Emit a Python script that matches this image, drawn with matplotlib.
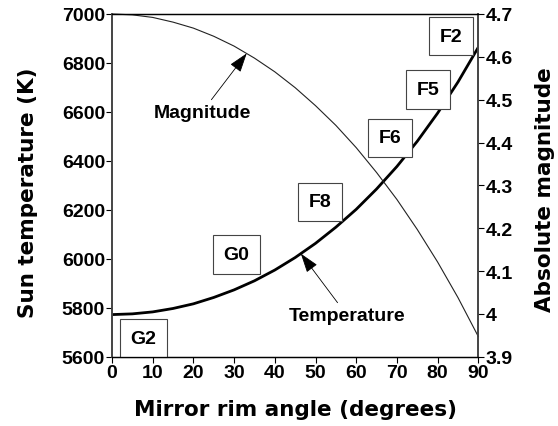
#!/usr/bin/env python3

import matplotlib
matplotlib.use("Agg")
import matplotlib.pyplot as plt

########################################################################################################################

# rim angle of the mirror (degrees)
angle = [0, 5, 10, 15, 20, 25, 30, 35, 40, 45, 50, 55, 60, 65, 70, 75, 80, 85, 90]

# sun temperature (K)
temperature = [5772, 5775, 5783, 5797, 5816, 5842, 5873, 5910, 5954, 6005,
               6063, 6129, 6202, 6285, 6377, 6480, 6595, 6722, 6864]

# absolute magnitude
magnitude = [4.700, 4.698, 4.692, 4.681, 4.667, 4.648, 4.625, 4.597, 4.565, 4.528,
             4.486, 4.440, 4.388, 4.330, 4.267, 4.197, 4.121, 4.038, 3.947]

# spectral type boxes (angle, temperature of box centre)
star_types = ['G2', 'G0', 'F8', 'F6', 'F5', 'F2']
type_angle = [7.7, 30.5, 51.2, 68.4, 77.6, 83.3]
type_temp = [5676, 6018, 6232, 6494, 6691, 6909]

temp_ticks = [5600, 5800, 6000, 6200, 6400, 6600, 6800, 7000]
mag_ticks = [3.9, 4.0, 4.1, 4.2, 4.3, 4.4, 4.5, 4.6, 4.7]
mag_labels = ['3.9', '4', '4.1', '4.2', '4.3', '4.4', '4.5', '4.6', '4.7']
angle_ticks = [0, 10, 20, 30, 40, 50, 60, 70, 80, 90]

########################################################################################################################

tickfont = dict(family='Liberation Sans', weight='bold', size=14)
labelfont = dict(family='DejaVu Sans', weight='bold', size=15.5)
notefont = dict(family='Liberation Sans', weight='bold', size=14)

fig = plt.figure(figsize=(5.58, 4.27), dpi=100)
ax = fig.add_axes([0.2007, 0.1623, 0.8572 - 0.2007, 0.9649 - 0.1623])
ax2 = ax.twinx()

ax.plot(angle, temperature, color='black', lw=2.0, zorder=2)
ax2.plot(angle, magnitude, color='#222222', lw=0.8, clip_on=False)

ax.set_xlim(0, 90)
ax.set_ylim(5600, 7000)
ax2.set_ylim(3.9, 4.7)

ax.set_xticks(angle_ticks)
ax.set_xticklabels([str(a) for a in angle_ticks], fontdict=tickfont)
ax.set_yticks(temp_ticks)
ax.set_yticklabels([str(t) for t in temp_ticks], fontdict=tickfont)
ax2.set_yticks(mag_ticks)
ax2.set_yticklabels(mag_labels, fontdict=tickfont)

ax.tick_params(axis='x', direction='out', length=4, width=0.8, pad=1.5)
ax.tick_params(axis='y', direction='out', length=4, width=0.8, pad=1.0)
ax2.tick_params(axis='y', direction='out', length=4, width=0.8, pad=1.0)

for a in (ax, ax2):
    a.spines['top'].set_linewidth(0.9)
    a.spines['bottom'].set_linewidth(0.9)
    a.spines['left'].set_color('#444444')
    a.spines['right'].set_color('#444444')
    a.spines['left'].set_linewidth(1.2)
    a.spines['right'].set_linewidth(1.2)

ax.set_xlabel('Mirror rim angle (degrees)', fontdict=labelfont, va='center')
ax.xaxis.set_label_coords(0.5, -0.153)
ax.set_ylabel('Sun temperature (K)', fontdict=labelfont, va='center')
ax.yaxis.set_label_coords(-0.229, 0.48)
ax2.set_ylabel('Absolute magnitude', fontdict=labelfont, va='center', rotation=90)
ax2.yaxis.set_label_coords(1.182, 0.49)

for name, a, t in zip(star_types, type_angle, type_temp):
    ax.text(a, t, name, ha='center', va='center', fontdict=notefont, zorder=5, clip_on=False,
            bbox=dict(boxstyle='square,pad=0.55', fc='white', ec='#444444', lw=0.8))

arrow = dict(arrowstyle='-|>,head_length=0.6,head_width=0.2', mutation_scale=20,
             color='black', lw=0.6, shrinkA=1, shrinkB=0)
ax2.annotate('Magnitude', xy=(33.1, 4.608), xytext=(22.1, 4.471), ha='center', va='center',
             arrowprops=arrow, **notefont)
ax.annotate('Temperature', xy=(46.4, 6021), xytext=(57.7, 5770), ha='center', va='center',
            arrowprops=arrow, **notefont)

plt.savefig('out.png', dpi=100)
